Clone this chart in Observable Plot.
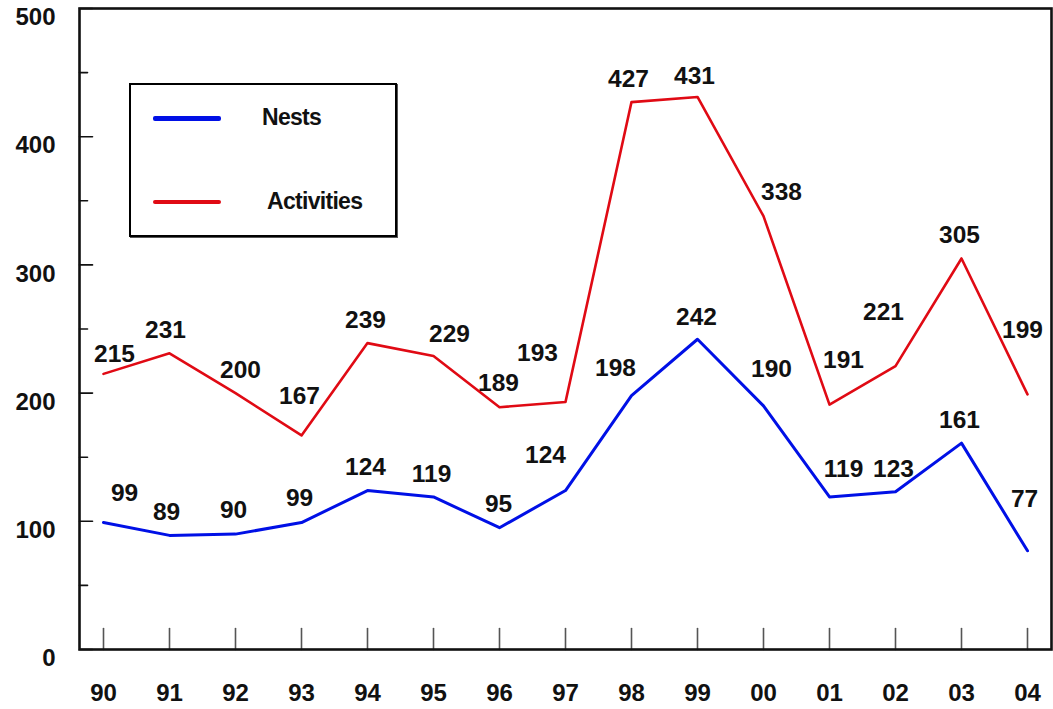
<!DOCTYPE html>
<html>
<head>
<meta charset="utf-8">
<script src="https://cdn.jsdelivr.net/npm/d3@7"></script>
<script src="https://cdn.jsdelivr.net/npm/@observablehq/plot@0.6"></script>
<style>
  html, body { margin: 0; padding: 0; background: #fff; }
  #wrap { position: relative; width: 1053px; height: 709px; font-family: "Liberation Sans", Arial, sans-serif; }
  #legend {
    position: absolute; left: 129px; top: 83px; width: 264px; height: 150px;
    border: 2px solid #000; box-shadow: 1px 1px 0 #555; background: #fff;
  }
  .lg-line { position: absolute; left: 22px; width: 68px; border-radius: 2px; }
  .lg-text { position: absolute; font-weight: bold; font-size: 23px; letter-spacing: -0.7px; color: #111; line-height: 1; }
</style>
</head>
<body>
<div id="wrap"></div>
<script>
// ---- data ----
const years = ["90","91","92","93","94","95","96","97","98","99","00","01","02","03","04"];
const nests = [99, 89, 90, 99, 124, 119, 95, 124, 198, 242, 190, 119, 123, 161, 77];
const activities = [215, 231, 200, 167, 239, 229, 189, 193, 427, 431, 338, 191, 221, 305, 199];
const yTickValues = [0, 100, 200, 300, 400, 500];
const yMinorValues = [50, 150, 250, 350, 450];
const seriesNames = ["Nests", "Activities"];

// label placement nudges in pixels (layout only)
const nestNudge = [[21,-29],[-3,-23],[-2,-24],[-2,-24],[-2,-23],[-2,-23],[-1,-24],[-20,-35],[-16,-28],[-1,-22],[8,-37],[14,-28],[-2,-23],[-2,-23],[-3,-52]];
const actNudge = [[11,-20],[-4,-23],[5,-23],[-2,-39],[-2,-23],[16,-22],[-1,-24],[-28,-49],[-3,-23],[-3,-21],[18,-24],[14,-44],[-12,-54],[-2,-23],[-5,-64]];

const blue = "#0010e6";
const red = "#e00a14";
const font = "'Liberation Sans', Arial, sans-serif";

const nestRows = years.map((y, i) => ({year: y, value: nests[i]}));
const actRows = years.map((y, i) => ({year: y, value: activities[i]}));

const tickShape = { draw(context, l) { context.moveTo(0, 0); context.lineTo(0, -l); } };

const labelMarks = [];
nestRows.forEach((d, i) => labelMarks.push(Plot.text([d], {
  x: "year", y: "value", text: d => String(d.value),
  dx: nestNudge[i][0], dy: nestNudge[i][1],
  fontSize: 24.5, fontWeight: "bold", fill: "#111", textAnchor: "middle"
})));
actRows.forEach((d, i) => labelMarks.push(Plot.text([d], {
  x: "year", y: "value", text: d => String(d.value),
  dx: actNudge[i][0], dy: actNudge[i][1],
  fontSize: 24.5, fontWeight: "bold", fill: "#111", textAnchor: "middle"
})));

const chart = Plot.plot({
  width: 1053,
  height: 709,
  marginTop: 8,
  marginRight: 2,
  marginBottom: 60,
  marginLeft: 79,
  style: { fontFamily: font, background: "#fff", overflow: "visible" },
  x: { type: "point", domain: years, padding: 0.31, label: null },
  y: { domain: [0, 500], label: null },
  marks: [
    Plot.axisY({ ticks: yTickValues, tickSize: 0, tickPadding: 24, dy: 9, fontSize: 24, fontWeight: "bold", fill: "#111", tickFormat: d => String(d), label: null }),
    Plot.axisX({ tickSize: 0, tickPadding: 34, fontSize: 24, fontWeight: "bold", fill: "#111", label: null }),
    Plot.vector(years, { x: d => d, frameAnchor: "bottom", length: 21, anchor: "start", rotate: 0, shape: tickShape, stroke: "#555", strokeWidth: 1.6 }),
    Plot.vector(yTickValues, { y: d => d, frameAnchor: "left", length: 13, anchor: "start", rotate: 90, shape: tickShape, stroke: "#111", strokeWidth: 1.6 }),
    Plot.vector(yMinorValues, { y: d => d, frameAnchor: "left", length: 8, anchor: "start", rotate: 90, shape: tickShape, stroke: "#111", strokeWidth: 1.6 }),
    Plot.line(actRows, { x: "year", y: "value", stroke: red, strokeWidth: 2.6 }),
    Plot.line(nestRows, { x: "year", y: "value", stroke: blue, strokeWidth: 3 }),
    ...labelMarks,
    Plot.frame({ stroke: "#111", strokeWidth: 2.6 })
  ]
});

const wrap = document.getElementById("wrap");
wrap.appendChild(chart);

// legend inside the plot area
const legend = document.createElement("div");
legend.id = "legend";
const colors = [blue, red];
const lineTops = [33, 117];
const lineHeights = [5, 4];
const textLefts = [131, 136];
seriesNames.forEach((name, i) => {
  const ln = document.createElement("div");
  ln.className = "lg-line";
  ln.style.top = (lineTops[i] - lineHeights[i] / 2) + "px";
  ln.style.height = lineHeights[i] + "px";
  ln.style.background = colors[i];
  legend.appendChild(ln);
  const tx = document.createElement("div");
  tx.className = "lg-text";
  tx.style.left = textLefts[i] + "px";
  tx.style.top = (lineTops[i] - 12) + "px";
  tx.textContent = name;
  legend.appendChild(tx);
});
wrap.appendChild(legend);
</script>
</body>
</html>
